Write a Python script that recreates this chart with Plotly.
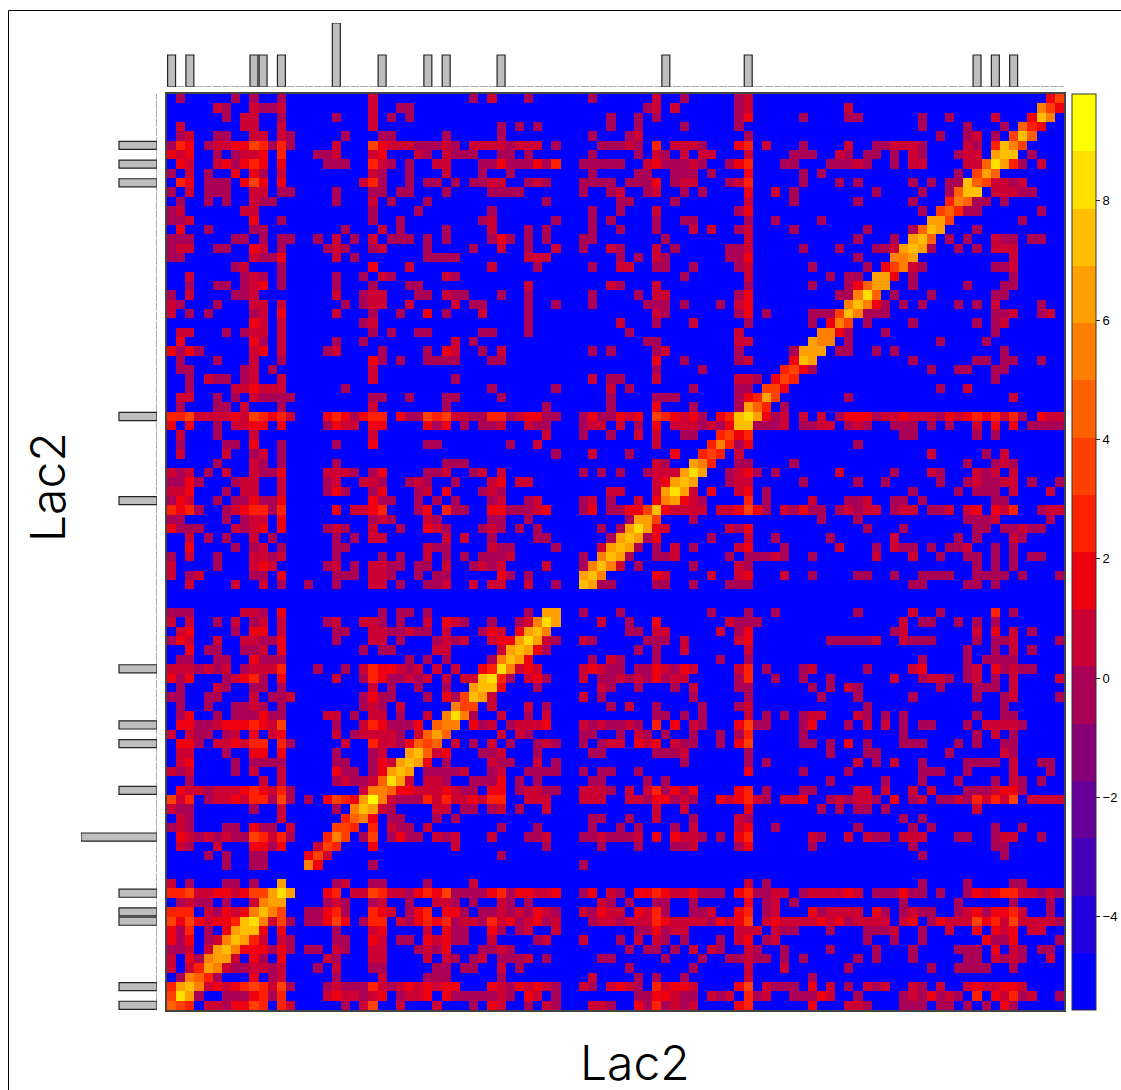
import plotly.graph_objects as go

PAGE_W, PAGE_H = 1121, 1090
PAD = 0  # the page body margin is removed by the post script
W, H = PAGE_W - PAD, PAGE_H - PAD
N = 98
# sparse rows from the top of the picture: "column:bands", one char per cell
ROWS = [
"1:5 7:5 9:5 12:5 22:6 33:5 35:6 39:5 46:5 53:6 56:5 62:56 96:79",
"5:65 9:6556 22:6 25:55 52:56 55:6 62:56 74:6 95:b97",
"6:5 8:66 12:5 18:5 22:6 24:5 26:5 48:5 51:5 53:5 62:57 69:5 74:55 82:5 85:5 90:6 94:7db",
"1:6 8:66 12:6 22:6 36:5 38:5 40:5 48:5 51:5 56:5 62:5 82:5 87:5 91:5 93:a87",
"1:56 5:55 9:66 12:65 19:5 23:55 30:5 36:5 46:5 50:56 63:5 84:5 87:56 90:5 92:9da",
"0:587 4:5667798585 18:6 22:97666 27:555 30:65 33:66665666 42:5 47:55565 53:8 55:6665 62:78 65:6 69:5 74:6 77:556665 87:65 90:8db9",
"0:767 5:5 7:5667 12:8 16:556 22:67 27:65 30:65 32:55 36:55 39:5 46:5 51:5 53:65 56:6 58:66 63:6 68:555 73:65 76:55 79:5 81:65 86:566 90:cdd",
"1:76 5:675787 12:7 17:555 22:865 26:5 29:66 34:557555758 45:55555 52:6755565 61:578 67:55 72:55565 79:5 81:66 87:66ae",
"0:5 2:6 4:5 7:7 9:75 12:6 22:65 26:5 30:6 34:5 37:5 46:5 51:55 55:555 59:5 63:7 69:5 71:5 86:5 88:9c",
"1:87 4:555 8:797 12:7 21:685 26:5 28:55 31:5 33:5566 39:565 45:5555 50:5557 55:566 61:568 69:5 73:5 75:5 81:5 83:5 85:55 87:da",
"0:5 2:6 4:555 9:66 12:55 18:5 22:55 25:55 30:5 35:5555 45:5 48:56 52:56 56:5 58:5 63:7 66:6 68:5 77:5 82:5 85:5ad",
"1:5 4:5 6:5 9:655 18:5 22:6 24:5 28:5 41:5 49:55 55:5 63:6 68:5 75:5 81:5 85:8b",
"0:56 8:66 22:5 27:5 35:5 46:5 49:5 53:6 62:57 82:5 84:9a",
"0:556 9:7 12:5 22:5 25:5 34:56 42:5 46:5 48:5 53:5 56:55 63:5 66:5 71:5 83:cc",
"1:7 4:5 9:55 19:5 23:6 25:5 30:5 35:6 39:5 41:5 46:5 49:5 53:5 57:6 59:6 62:56 68:5 76:5 81:5ad",
"0:555 7:55 10:5 12:55 16:5 18:6 20:5 22:6 24:555 28:5 30:5 35:575 39:5 41:5 45:55 54:5 63:6 75:5 79:5 81:cd",
"0:566 5:55 9:76 12:5 17:565 22:56 28:5 33:5 36:6 39:5 42:6 45:5 48:65 53:6 55:5 61:556 69:5 73:5 77:556 80:cd",
"0:55 9:6557 18:6 20:5 28:5555 39:666 49:5 51:5 53:65 61:557 75:5 79:bb",
"7:56 12:5 22:7 26:6 35:6 40:5 46:5 49:66 53:55 57:5 62:56 70:5 76:5 78:79",
"2:6 8:565 12:5 18:5 21:5 23:65 30:65 56:5 63:6 72:5 74:55 77:cc",
"2:5 5:55 8:567 12:5 18:5 22:5 26:55 39:6 48:65 53:6 63:5 70:5 74:57ac",
"0:5 2:6 7:556 18:6 21:566 27:55 30:65 32:5 36:5 39:5 46:5 51:5 53:66 62:57 73:55 75:be",
"0:65 5:5 9:66 12:6 19:5 21:566 26:6 31:6 33:55 39:5 42:5 46:5 52:555 56:5 60:5 62:67 74:bd",
"0:6 2:5 4:5 9:56 12:7 18:6 22:5 25:5 28:7 30:5 34:6 39:5 53:65 62:57 65:5 70:555 73:9d",
"9:76 12:6 21:56 39:5 49:6 53:5 57:6 63:5 70:5 72:7b",
"1:66 6:5 8:566 12:6 22:5 24:5 27:55 34:55 39:5 50:5 62:6 71:bb",
"1:7 9:75 12:6 18:5 21:5 31:6 33:5 52:55 62:66 70:cb",
"0:7575 9:67 12:6 17:56 23:5 28:5 30:76 34:5 36:6 46:5 48:5 53:56 62:5 68:5 69:cc",
"1:5 5:5 9:6 12:5 22:75 25:5 28:5555 35:55 53:7 56:5 62:56 68:7d",
"1:55 8:56 11:5 22:6 53:5 58:5 67:89",
"2:5 4:655 8:56 12:6 22:6 31:5 46:6 48:55 53:6 62:665 64:5 66:79",
"2:5 7:667666 19:5 35:5 42:5 48:6 50:5 57:5 62:55 65:99",
"1:66 5:5 7:5 9:6 10:5555 22:55 26:5 30:55 36:5 48:5 53:555 62:578 65:c",
"1:5 5:55 8:6 12:5 22:6 30:5 41:5 48:5 53:7 57:5 62:5ca",
"0:88966667698786 17:7875788 25:7559896 32:65588567755 45:5755767 53:987675 60:78de",
"0:7 2:7 5:5 7:6677 12:7 17:57 19:66 22:77 28:757 32:5 34:556 39:655 45:566 49:6 51:5 53:7 55:6665657 62:d",
"1:6 5:5 9:6 22:6 41:6 45:5 48:5 51:6 53:6 56:55 60:898",
"1:5 6:55 9:7 12:5 18:5 22:7 28:55 37:5 40:6 53:6 59:8b85",
"1:6 6:6 9:56 12:5 42:5 46:6 50:5 55:7 58:898 ",
"5:5 9:65 12:5 18:5 30:55 32:5 53:65 57:cb8",
"0:656 4:5 6:6 9:6557 17:6665 22:57 28:556 33:56 36:6 45:5 47:5 49:5 52:5666cec",
"0:5575 7:566 12:6 17:56 21:665 26:565 31:5 35:67 38:66 53:67cdc",
"0:667 6:5 8:66 12:6 17:575 22:57 27:56 30:7 34:565 48:66 53:6 54:cec",
"0:576 5:5 7:557557 22:755 27:5 29:5 31:5 35:56 39:56 45:56 48:5 51:6 53:7bc",
"0:8785 6:5678858 18:7 20:6678 27:57 30:85 32:5 35:7755567 45:57 48:55779d",
"0:55 6:5 8:566 12:7 22:565 28:65 35:55 39:5 50:5cc9",
"0:7555 7:6567 12:7 17:565 22:6 25:5 28:765 34:565 38:5 40:5 47:5 49:5ce",
"2:6 4:5 6:5 9:6 11:5 18:5 20:5 22:66 30:6 32:6 35:5 40:55 48:5cd",
"2:7 7:5 9:56 12:5 18:55 28:655 35:655 42:5 47:6cd",
"0:5 2:6 5:5 9:6656 18:5 23:5 25:5 28:6 30:5 32:5 34:5556 45:5 47:bd",
"0:6 5:5 9:676 17:56 20:5 22:6655 27:55 30:6 33:5656 41:6 45:5bd",
"0:6 2:56 9:55 12:7 18:555 22:665 27:5 29:55 36:75 39:5 45:cd",
"2:6 7:6 10:6 12:5 15:5 18:5 22:66 25:5 28:556 33:6 35:66 39:6 42:5 45:d",
"",
"",
"0:555 8:665 12:7 23:5 25:55 28:5 39:5 41:cc",
"0:6 2:6 5:5 7:6 9:56 12:6 17:56 21:665 25:5 28:6 30:76 32:5 35:5 38:56be",
"1:67 7:5 9:77 12:6 18:55 22:6655655 30:6 34:576 38:7cd",
"0:576 5:6 8:66 10:557 18:5 22:66 25:5 29:565 32:6 35:677 38:ce",
"2:7 4:55 8:556 12:7 21:5 23:55 29:66 36:6cd",
"1:55 5:55 9:7555 26:5 28:5 30:5 35:5bd",
"0:6665656 8:56668 16:5 19:5 21:6877656 29:6 31:6 34:78e",
"0:757 6:56785 12:7 18:6 21:5 22:8755656 30:6 32:66de",
"1:5 5:65 9:55 12:5 22:6 24:5 27:5 30:5 33:cd",
"0:55 4:55 9:6 11:55 13:6 21:5755 28:5 30:75 32:9d",
"1:5 4:5 7:5565 12:5 21:565 25:6 31:b 32:9",
"1:57 5:5 7:5557 11:55 17:66 20:5 22:66 25:5 28:6 30:be",
"1:77 3:55 5:67778769 18:5 21:6875557 29:ab",
"0:6 2:655 6:56 9:7 11:67 18:6 20:5 21:6 22:666 25:5 27:6 28:ac",
"1:775 5:667688 12:85 19:6 22:86657a9",
"1:66 6:5 9:77 12:7 18:5 22:56 26:cd",
"1:67 7:5 9:5555 18:55 22:576cd",
"0:656 7:5 9:6 12:6 18:755 22:57cd",
"2:5 10:6 12:6 18:56 20:55 22:6ae",
"1:7665666787685 21:6bb",
"0:968 4:5667688595 15:5 17:7987cf",
"0:655 9:5 12:6 18:5 20:bd",
"1:65 12:6 19:8a",
"0:565 6:55 9:755 13:6 18:99",
"1:7656565598685 17:8b",
"1:65 5:6 9:7757 16:69",
"4:5 6:5 9:55 15:79",
"6:5 9:55 15:b",
"",
"0:6 2:5 6:55 9:5 12:c",
"0:88966776799ce",
"1:5655 6:5 9:6bc",
"0:888 4:65767bdb",
"0:97976778de",
"0:758 4:5 6:7cd",
"0:757 4:56bd",
"0:556 4:6 5:cd",
"0:6 2:75bc",
"0:6 2:68c",
"1:5ba",
"0:8cd",
"0:9e",
"0:a",
]
BAND_VALUES = {"0": -5.08, "5": -0.29, "6": 0.66, "7": 1.63, "8": 2.59, "9": 3.55,
               "a": 4.5, "b": 5.46, "c": 6.42, "d": 7.38, "e": 8.34, "f": 9.3}
BAND_COLORS = ["#0000FF", "#2200DD", "#4400BB", "#660099", "#880077", "#AA0055", "#CC0033", "#EE0011",
               "#FF2000", "#FF4000", "#FF6000", "#FF8000", "#FF9F00", "#FFBF00", "#FFDF00", "#FFFF00"]
ZMIN, ZMAX = -5.56, 9.79
TICKS = [-4, -2, 0, 2, 4, 6, 8]
MARGIN_POS = [0, 2, 9, 10, 12, 18, 23, 28, 30, 36, 54, 63, 88, 90, 92]
MARGIN_VAL = [1, 1, 1, 1, 1, 2, 1, 1, 1, 1, 1, 1, 1, 1, 1]
TITLE = "Lac2"


def fx(px):
    return (px - PAD) / W


def fy(py):
    return 1 - (py - PAD) / H


z = [[BAND_VALUES["0"]] * N for _ in range(N)]
for t, row in enumerate(ROWS):
    i = N - 1 - t
    for tok in row.split():
        c, vals = tok.split(":")
        for k, ch in enumerate(vals):
            j = int(c) + k
            if j <= i:
                z[i][j] = BAND_VALUES[ch]
                z[j][i] = BAND_VALUES[ch]

scale = []
for k, col in enumerate(BAND_COLORS):
    scale += [[k / 16, col], [(k + 1) / 16, col]]

xd = [fx(167), fx(1064)]
yd = [fy(1010), fy(94)]
rng = [-0.5, N - 0.5]
edge = rng

fig = go.Figure()
fig.add_trace(go.Heatmap(z=z, x=list(range(N)), y=list(range(N)), colorscale=scale, zmin=ZMIN, zmax=ZMAX,
    hoverinfo="skip",
    colorbar=dict(x=fx(1072), xanchor="left", y=yd[0], yanchor="bottom", len=916 / H, lenmode="fraction",
                  thickness=24, thicknessmode="pixels", xpad=0, ypad=0, outlinewidth=1, outlinecolor="#333",
                  tickmode="array", tickvals=TICKS, ticks="outside", ticklen=4, tickcolor="#222",
                  tickprefix="\u00a0\u00a0",
                  tickfont=dict(family="Liberation Sans", size=13, color="black"))))
bar = dict(color="#BEBEBE", line=dict(color="#222222", width=1.2))
fig.add_trace(go.Bar(x=MARGIN_POS, y=MARGIN_VAL, width=0.87, marker=bar, xaxis="x2", yaxis="y2", showlegend=False))
fig.add_trace(go.Bar(y=MARGIN_POS, x=MARGIN_VAL, width=0.87, orientation="h", marker=bar, xaxis="x3", yaxis="y3", showlegend=False))
dash = dict(color="#555555", width=1, dash="8px,1.2px")
fig.add_trace(go.Scatter(x=edge, y=[0, 0], mode="lines", line=dash, xaxis="x2", yaxis="y2", showlegend=False, cliponaxis=False))
fig.add_trace(go.Scatter(y=edge, x=[0, 0], mode="lines", line=dash, xaxis="x3", yaxis="y3", showlegend=False, cliponaxis=False))

hidden = dict(showgrid=False, zeroline=False, showticklabels=False, ticks="", showline=False)
frame = dict(showgrid=False, zeroline=False, showticklabels=False, ticks="", showline=True, mirror=True,
             linecolor="#444444", linewidth=1.5)
title_font = dict(family="Inter, Liberation Sans", size=48, weight=300, color="black")
fig.update_layout(
    width=W, height=H, margin=dict(l=0, r=0, t=0, b=0), paper_bgcolor="white", plot_bgcolor="white", showlegend=False,
    xaxis=dict(domain=xd, range=rng, anchor="y", **frame),
    yaxis=dict(domain=yd, range=rng, anchor="x", **frame),
    xaxis2=dict(domain=xd, range=rng, anchor="y2", **hidden),
    yaxis2=dict(domain=[fy(87), fy(23)], range=[0, 2], anchor="x2", **hidden),
    xaxis3=dict(domain=[fx(81), fx(157)], range=[2, 0], anchor="y3", **hidden),
    yaxis3=dict(domain=yd, range=rng, anchor="x3", **hidden),
    annotations=[
        dict(text=TITLE, xref="paper", yref="paper", x=fx(635), y=fy(1062), xanchor="center", yanchor="middle",
             showarrow=False, font=title_font),
        dict(text=TITLE, xref="paper", yref="paper", x=fx(47), y=fy(487), xanchor="center", yanchor="middle",
             textangle=-90, showarrow=False, font=title_font),
    ],
    shapes=[
        dict(type="line", xref="paper", yref="paper", x0=fx(8.5), x1=fx(8.5), y0=0, y1=fy(10.5), line=dict(color="black", width=1)),
        dict(type="line", xref="paper", yref="paper", x0=fx(8.5), x1=1, y0=fy(10.5), y1=fy(10.5), line=dict(color="black", width=1)),
    ],
)
fig.write_html("out.html", default_width=f"{W}px", default_height=f"{H}px",
               config={"displayModeBar": False},
               post_script="document.body.style.margin='0';")
